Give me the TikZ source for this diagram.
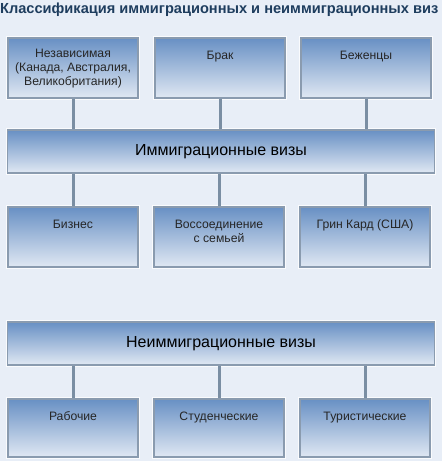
\documentclass[tikz,border=0pt]{standalone}
\usepackage{fontspec}
\setmainfont{Liberation Sans}
\usetikzlibrary{positioning}
\definecolor{pagebg}{HTML}{E8EEF7}
\definecolor{titleblue}{HTML}{1E3D5E}
\definecolor{boxtop}{HTML}{6890C4}
\definecolor{boxbot}{HTML}{E0E8F3}
\definecolor{boxedge}{HTML}{8A9BAF}
\definecolor{linkgray}{HTML}{7A8EA3}

\tikzset{
  visabox/.style={rectangle, top color=boxtop, bottom color=boxbot,
    draw=boxedge, line width=1.2pt,
    preaction={draw=white, line width=3.5pt, opacity=0.8},
    minimum width=130pt, minimum height=60pt, inner sep=0pt},
  visabar/.style={visabox, minimum width=427pt, minimum height=43pt,
    font=\fontsize{16}{19}\selectfont},
  boxtxt/.style={anchor=north, yshift=-10pt, align=center,
    font=\fontsize{12.2}{14.3}\selectfont, text=black!85},
  link/.style={draw=linkgray, line width=3pt}
}

\begin{document}
\begin{tikzpicture}[x=1pt, y=-1pt]
  \fill[pagebg] (0,0) rectangle (442,461);
  \useasboundingbox (0,0) rectangle (442,461);

  \node[anchor=west, inner sep=0pt, text=titleblue,
    font=\fontsize{14.6}{17}\selectfont\bfseries] (title) at (0,10)
    {Классификация иммиграционных и неиммиграционных виз};

  % immigrant visas
  \node[visabox, label={[boxtxt, yshift=2pt]north:{Независимая\\(Канада, Австралия,\\Великобритания)}}] (indep) at (73,68) {};
  \node[visabox, label={[boxtxt]north:Брак}] (marr) at (220,68) {};
  \node[visabox, label={[boxtxt]north:Беженцы}] (refug) at (366,68) {};

  \node[visabar] (imm) at (221,151.5) {Иммиграционные визы};

  \node[visabox, label={[boxtxt]north:Бизнес}] (busi) at (73,237) {};
  \node[visabox, label={[boxtxt]north:{Воссоединение\\с семьей}}] (famil) at (219,237) {};
  \node[visabox, label={[boxtxt]north:{Грин Кард (США)}}] (green) at (365,237) {};

  \draw[link] (indep.south) -- (indep.south |- imm.north);
  \draw[link] (marr.south) -- (marr.south |- imm.north);
  \draw[link] (refug.south) -- (refug.south |- imm.north);
  \draw[link] (busi.north |- imm.south) -- (busi.north);
  \draw[link] (famil.north |- imm.south) -- (famil.north);
  \draw[link] (green.north |- imm.south) -- (green.north);

  % non-immigrant visas
  \node[visabar] (nonimm) at (221,343.5) {Неиммиграционные визы};

  \node[visabox, minimum height=58pt, label={[boxtxt]north:Рабочие}] (work) at (73,428) {};
  \node[visabox, minimum height=58pt, label={[boxtxt]north:Студенческие}] (stud) at (219,428) {};
  \node[visabox, minimum height=58pt, label={[boxtxt]north:Туристические}] (tour) at (365,428) {};

  \draw[link] (work.north |- nonimm.south) -- (work.north);
  \draw[link] (stud.north |- nonimm.south) -- (stud.north);
  \draw[link] (tour.north |- nonimm.south) -- (tour.north);
\end{tikzpicture}
\end{document}
